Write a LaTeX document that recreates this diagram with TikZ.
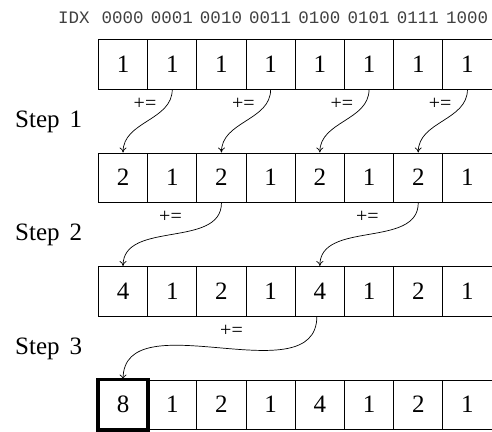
\documentclass[tikz,border=0pt]{standalone}
\usepackage{fontspec}
\setmainfont{Liberation Serif}
\newfontfamily\idxfont{Liberation Mono}
\usetikzlibrary{arrows.meta}
\begin{document}
\begin{tikzpicture}[x=1pt,y=-1pt,
  cell/.style={draw, line width=0.9pt, minimum width=49.2pt, minimum height=49.5pt,
    inner sep=0pt, anchor=north west, font=\fontsize{25}{25}\selectfont},
  result/.style={line width=3.4pt},
  steplabel/.style={anchor=base west, inner sep=0pt, font=\fontsize{25}{25}\selectfont},
  oplabel/.style={inner sep=0pt, font=\fontsize{20}{20}\selectfont},
  idxlabel/.style={inner sep=0pt, anchor=base, text=black!75,
    font=\idxfont\fontsize{17.5}{17.5}\selectfont},
  addarrow/.style={-{To[length=5pt,width=7pt]}, line width=0.7pt}]
\useasboundingbox (0,0) rectangle (492,431);

% index header
\node[idxlabel] (idx) at (74,23) {IDX};
\foreach \b [count=\i from 0] in {0000,0001,0010,0011,0100,0101,0111,1000}
  \node[idxlabel] (idx\i) at ({98+49.2*(\i+0.5)},23) {\b};

% rows of the array after each step
\foreach \row/\vals in {0/{1,1,1,1,1,1,1,1},1/{2,1,2,1,2,1,2,1},2/{4,1,2,1,4,1,2,1},3/{8,1,2,1,4,1,2,1}}
  \foreach \v [count=\i from 1] in \vals
    \node[cell] (r\row c\i) at ({98+49.2*(\i-1)},{39+113.5*\row}) {\v};

% highlight the final total
\draw[result] (r3c1.north west) rectangle (r3c1.south east);

% step labels
\node[steplabel] (s1) at (15,127) {Step\hspace{0.4em}1};
\node[steplabel] (s2) at (15,240.5) {Step\hspace{0.4em}2};
\node[steplabel] (s3) at (15,354) {Step\hspace{0.4em}3};

% step 1
\foreach \a/\b in {2/1,4/3,6/5,8/7}
  \draw[addarrow] (r0c\a.south) to[out=-90,in=90] (r1c\b.north);
\foreach \k in {0,1,2,3}
  \node[oplabel] (op1\k) at ({145+98.4*\k},104) {+=};

% step 2
\foreach \a/\b in {3/1,7/5}
  \draw[addarrow] (r1c\a.south) to[out=-90,in=90] (r2c\b.north);
\node[oplabel] (op20) at (170.5,217) {+=};
\node[oplabel] (op21) at (367.3,217) {+=};

% step 3
\draw[addarrow] ([xshift=-3pt]r2c5.south) to[out=-90,in=90] (r3c1.north);
\node[oplabel] (op30) at (231.5,331) {+=};
\end{tikzpicture}
\end{document}
